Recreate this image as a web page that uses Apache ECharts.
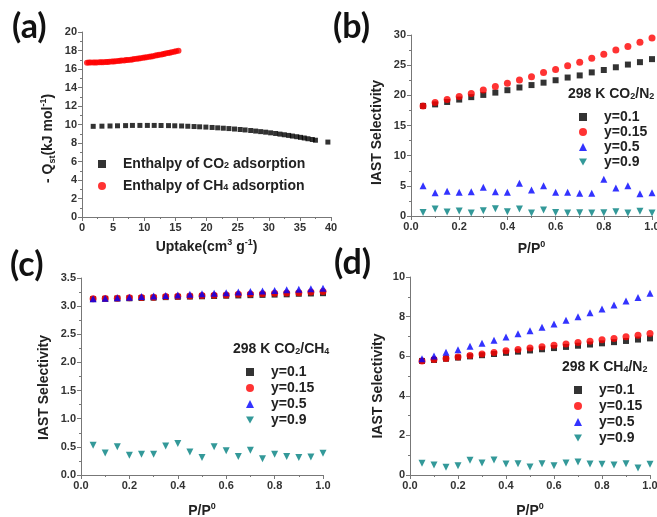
<!DOCTYPE html>
<html><head><meta charset="utf-8">
<script src="https://cdn.jsdelivr.net/npm/echarts/dist/echarts.min.js"></script>
<style>html,body{margin:0;padding:0;background:#fff}#c{width:657px;height:517px}</style>
</head><body><div id="c"></div>
<script>
// ---------- data ----------
const uptakeCO2 = [1.8,3.2,4.5,5.7,7.0,8.1,9.3,10.5,11.6,12.7,13.9,14.9,16.0,17.0,18.0,18.9,19.9,20.9,21.8,22.7,23.6,24.5,25.4,26.2,27.1,27.9,28.7,29.5,30.3,31.1,31.8,32.5,33.2,33.8,34.5,35.1,35.7,36.3,37.0,37.5,39.5];
const qstCO2 = [9.8,9.82,9.84,9.86,9.88,9.9,9.9,9.9,9.9,9.89,9.88,9.86,9.84,9.81,9.78,9.75,9.72,9.68,9.64,9.6,9.56,9.51,9.46,9.41,9.35,9.29,9.23,9.17,9.1,9.03,8.96,8.89,8.82,8.75,8.68,8.61,8.54,8.46,8.38,8.3,8.1];
const uptakeCH4 = [0.8,1.1,1.4,1.8,2.1,2.4,2.8,3.1,3.4,3.8,4.1,4.4,4.8,5.1,5.4,5.8,6.1,6.4,6.8,7.1,7.4,7.8,8.1,8.4,8.8,9.1,9.4,9.8,10.1,10.4,10.8,11.1,11.4,11.8,12.1,12.4,12.8,13.1,13.4,13.8,14.1,14.4,14.8,15.1,15.5];
const qstCH4 = [16.68,16.69,16.69,16.70,16.70,16.71,16.72,16.73,16.74,16.76,16.77,16.79,16.81,16.82,16.84,16.87,16.88,16.91,16.93,16.96,16.98,17.01,17.04,17.07,17.11,17.14,17.17,17.21,17.24,17.28,17.32,17.36,17.39,17.45,17.48,17.53,17.58,17.62,17.67,17.72,17.76,17.82,17.87,17.92,17.98];

const pRel = [0.05,0.1,0.15,0.2,0.25,0.3,0.35,0.4,0.45,0.5,0.55,0.6,0.65,0.7,0.75,0.8,0.85,0.9,0.95,1.0];

const b_y01 = [18.24,18.5,18.9,19.3,19.7,20.07,20.45,20.85,21.3,21.7,22.1,22.5,22.95,23.3,23.8,24.2,24.65,25.1,25.5,26.0];
const b_y015 = [18.24,18.8,19.3,19.8,20.3,20.9,21.45,22.0,22.55,23.1,23.8,24.3,24.9,25.5,26.15,26.8,27.5,28.1,28.8,29.5];
const b_y05 = [5.0,3.87,4.1,3.93,4.03,4.76,4.03,3.93,5.42,4.3,5.0,3.93,3.93,3.76,3.76,6.08,4.64,5.0,3.7,3.87];
const b_y09 = [0.6,1.16,0.66,0.83,0.5,0.88,1.21,0.71,1.16,0.5,1.0,0.6,0.5,0.55,0.5,0.55,0.71,0.5,0.77,0.5];

const c_y01 = [3.125,3.13,3.135,3.14,3.145,3.15,3.16,3.165,3.17,3.175,3.18,3.185,3.19,3.195,3.2,3.205,3.21,3.22,3.225,3.23];
const c_y015 = [3.13,3.135,3.14,3.15,3.155,3.16,3.17,3.175,3.18,3.19,3.195,3.2,3.21,3.215,3.22,3.23,3.235,3.24,3.25,3.26];
const c_y05 = [3.13,3.14,3.15,3.16,3.17,3.18,3.19,3.2,3.21,3.22,3.23,3.24,3.25,3.26,3.27,3.28,3.29,3.3,3.31,3.32];
const c_y09 = [0.53,0.39,0.50,0.35,0.37,0.37,0.515,0.56,0.41,0.31,0.50,0.43,0.33,0.44,0.29,0.37,0.33,0.31,0.32,0.385];

const d_y01 = [5.76,5.81,5.87,5.93,5.99,6.05,6.11,6.17,6.23,6.29,6.35,6.41,6.47,6.53,6.59,6.65,6.71,6.77,6.84,6.9];
const d_y015 = [5.76,5.83,5.89,5.96,6.03,6.11,6.19,6.27,6.34,6.41,6.48,6.55,6.62,6.69,6.76,6.83,6.90,6.98,7.06,7.15];
const d_y05 = [5.87,6.01,6.2,6.33,6.5,6.65,6.8,6.97,7.14,7.29,7.46,7.63,7.81,7.99,8.2,8.38,8.59,8.79,8.97,9.18];
const d_y09 = [0.59,0.5,0.39,0.47,0.74,0.6,0.76,0.56,0.57,0.4,0.57,0.47,0.6,0.66,0.56,0.54,0.5,0.57,0.35,0.54];

const seriesNamesA = ['Enthalpy of CO2 adsorption','Enthalpy of CH4 adsorption'];
const seriesNamesY = ['y=0.1','y=0.15','y=0.5','y=0.9'];
const panelTitles = ['298 K CO{sub|2}/N{sub|2}','298 K CO{sub|2}/CH{sub|4}','298 K CH{sub|4}/N{sub|2}'];
const panelLetters = ['(a)','(b)','(c)','(d)'];

// ---------- styles ----------
const FONT = '"Liberation Sans", Arial, sans-serif';
const TXT = '#222';
const AX = '#777';
const DOWN = 'path://M0,0L10,0L5,9Z';
const colors = ['#000000','#ff0000','#0000ff','#008080'];
const symbols = ['rect','circle','triangle',DOWN];
const symSizes = [6,7,7,7];

function rich(size){
  return {
    sub:{fontSize:size-5, fontWeight:'bold', fontFamily:FONT, color:TXT, verticalAlign:'bottom', lineHeight:size-5},
    sup:{fontSize:size-5, fontWeight:'bold', fontFamily:FONT, color:TXT, verticalAlign:'top', lineHeight:size-5}
  };
}

function axis(gridIndex, min, max, interval, name, gap, fmt, shift){
  return {
    gridIndex, min, max, interval, name, nameLocation:'middle', nameGap:gap,
    nameMoveOverlap:false,
    axisLine:{show:true, onZero:false, lineStyle:{color:AX, width:1}},
    axisTick:{show:true, inside:false, length:4, lineStyle:{color:AX}},
    minorTick:{show:true, splitNumber:2, length:2, lineStyle:{color:AX}},
    splitLine:{show:false},
    axisLabel:{color:'#333', fontSize:11, fontWeight:'bold', fontFamily:FONT, margin:5,
      showMinLabel:true, showMaxLabel:true, hideOverlap:false,
      formatter: fmt || (v=>String(v))},
    nameTextStyle:{color:TXT, fontSize:14, fontWeight:'bold', fontFamily:FONT, lineHeight:18,
      padding:[0, shift||0, 0, 0], rich:rich(14)}
  };
}
const f1 = v => v.toFixed(1);

const grids = [
  {left:82, top:32, width:249, height:185, containLabel:false, outerBoundsMode:'none'},
  {left:411, top:35, width:241, height:181, containLabel:false, outerBoundsMode:'none'},
  {left:81, top:278, width:242, height:197, containLabel:false, outerBoundsMode:'none'},
  {left:410, top:277, width:240, height:198, containLabel:false, outerBoundsMode:'none'}
];

const xAxes = [
  axis(0,0,40,5,'Uptake(cm{sup|3} g{sup|-1})',21),
  axis(1,0,1,0.2,'P/P{sup|0}',24,f1),
  axis(2,0,1,0.2,'P/P{sup|0}',27,f1),
  axis(3,0,1,0.2,'P/P{sup|0}',27,f1)
];
const yAxes = [
  axis(0,0,20,2,'- Q{sub|st}(kJ mol{sup|-1})',25,null,28),
  axis(1,0,30,5,'IAST Selectivity',25,null,14),
  axis(2,0,3.5,0.5,'IAST Selectivity',28,f1,22),
  axis(3,0,10,2,'IAST Selectivity',23,null,20)
];

function zip(xs, ys){ return xs.map((x,i)=>[x, ys[i]]); }

const series = [];
series.push({name:seriesNamesA[0], type:'scatter', xAxisIndex:0, yAxisIndex:0, symbol:'rect', symbolSize:5,
  itemStyle:{color:'#000'}, data:zip(uptakeCO2, qstCO2)});
series.push({name:seriesNamesA[1], type:'scatter', xAxisIndex:0, yAxisIndex:0, symbol:'circle', symbolSize:6,
  itemStyle:{color:'#ff0000'}, data:zip(uptakeCH4, qstCH4)});
const panelData = [
  [b_y01,b_y015,b_y05,b_y09],
  [c_y01,c_y015,c_y05,c_y09],
  [d_y01,d_y015,d_y05,d_y09]
];
panelData.forEach((arrs, p)=>{
  arrs.forEach((ys, k)=>{
    series.push({name:seriesNamesY[k], type:'scatter', xAxisIndex:p+1, yAxisIndex:p+1,
      symbol:symbols[k], symbolSize:symSizes[k], itemStyle:{color:colors[k]}, data:zip(pRel, ys)});
  });
});

const legendText = {color:TXT, fontSize:14, fontWeight:'bold', fontFamily:FONT, lineHeight:12, padding:[0,0,0,12], rich:rich(14)};
function yLegend(left, top, gap){
  return {orient:'vertical', left, top, itemWidth:8, itemHeight:8, itemGap:gap, padding:0,
    selectedMode:false, textStyle:legendText,
    data:seriesNamesY.map((n,k)=>({name:n, icon:symbols[k]}))};
}
const legends = [
  {orient:'vertical', left:98, top:157, itemWidth:8, itemHeight:8, itemGap:8, padding:0, selectedMode:false,
    textStyle:legendText,
    formatter: n => n.replace(/(CO|CH)(\d)/, '$1{sub|$2}'),
    data:[{name:seriesNamesA[0], icon:'rect'},{name:seriesNamesA[1], icon:'circle'}]},
  yLegend(579, 110, 1),
  yLegend(246, 365, 2),
  yLegend(574, 383, 2)
];

const titleStyle = {color:TXT, fontSize:14, fontWeight:'bold', fontFamily:FONT, rich:rich(14)};
const letterStyle = {color:'#111', fontSize:34, fontWeight:'bold', fontFamily:'Lato, "Open Sans", sans-serif'};
const titles = [
  {text:panelTitles[0], left:568, top:87, padding:0, textStyle:titleStyle},
  {text:panelTitles[1], left:233, top:342, padding:0, textStyle:titleStyle},
  {text:panelTitles[2], left:562, top:360, padding:0, textStyle:titleStyle},
  {text:panelLetters[0], left:12, top:10, padding:0, textStyle:letterStyle},
  {text:panelLetters[1], left:333, top:10, padding:0, textStyle:letterStyle},
  {text:panelLetters[2], left:10, top:248, padding:0, textStyle:letterStyle},
  {text:panelLetters[3], left:334, top:246, padding:0, textStyle:letterStyle}
];

const chart = echarts.init(document.getElementById('c'), null, {renderer:'canvas'});
chart.setOption({
  animation:false,
  backgroundColor:'#fff',
  title:titles,
  legend:legends,
  grid:grids,
  xAxis:xAxes,
  yAxis:yAxes,
  series
});
</script></body></html>
